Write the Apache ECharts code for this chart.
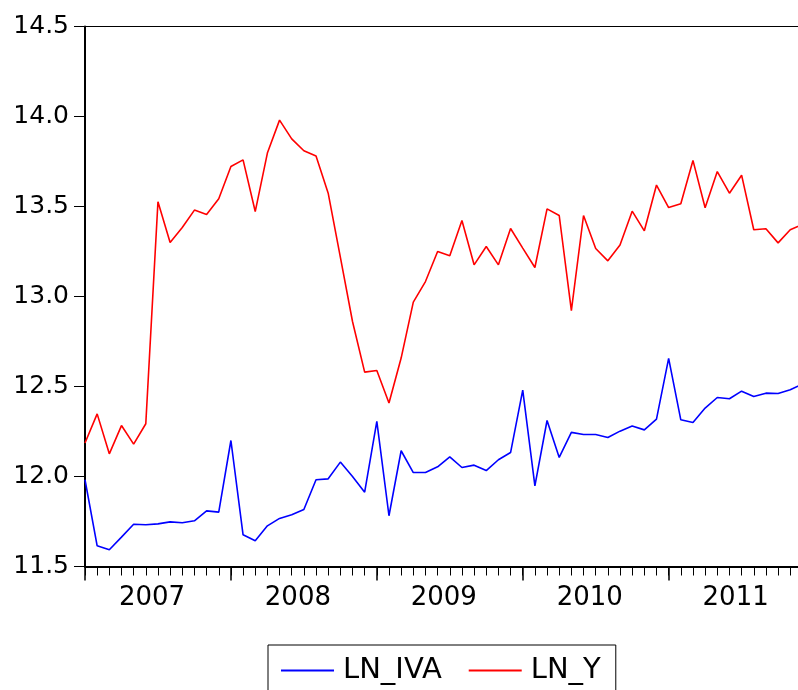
<!DOCTYPE html>
<html>
<head>
<meta charset="utf-8">
<script src="https://cdn.jsdelivr.net/npm/echarts@6/dist/echarts.min.js"></script>
<style>
html,body{margin:0;padding:0;background:#fff;}
#chart{width:798px;height:690px;}
</style>
</head>
<body>
<div id="chart"></div>
<script>
// Tick labels / categories
var years = ['2007', '2008', '2009', '2010', '2011'];
var monthsPerYear = 12;
var yTicks = [11.5, 12.0, 12.5, 13.0, 13.5, 14.0, 14.5];
var seriesNames = ['LN_IVA', 'LN_Y'];

// Monthly observations 2007M01 .. 2011M12
var lnIVA = [
  11.982, 11.615, 11.593, 11.663, 11.735, 11.732, 11.737, 11.748, 11.743, 11.754, 11.809, 11.802,
  12.200, 11.676, 11.643, 11.726, 11.767, 11.787, 11.817, 11.982, 11.987, 12.080, 12.000, 11.913,
  12.306, 11.782, 12.143, 12.022, 12.022, 12.054, 12.109, 12.050, 12.063, 12.033, 12.093, 12.133,
  12.480, 11.948, 12.311, 12.106, 12.245, 12.233, 12.233, 12.217, 12.252, 12.280, 12.259, 12.319,
  12.656, 12.315, 12.300, 12.380, 12.439, 12.432, 12.474, 12.444, 12.463, 12.461, 12.482, 12.513
];
var lnY = [
  12.186, 12.348, 12.126, 12.283, 12.180, 12.293, 13.526, 13.300, 13.383, 13.480, 13.456, 13.543,
  13.722, 13.759, 13.472, 13.797, 13.980, 13.876, 13.810, 13.780, 13.574, 13.219, 12.861, 12.580,
  12.589, 12.408, 12.658, 12.969, 13.083, 13.250, 13.226, 13.422, 13.176, 13.278, 13.176, 13.378,
  13.269, 13.161, 13.487, 13.450, 12.922, 13.450, 13.267, 13.198, 13.286, 13.474, 13.365, 13.619,
  13.494, 13.515, 13.756, 13.493, 13.694, 13.574, 13.674, 13.371, 13.376, 13.298, 13.371, 13.400
];

// observation index (months since 2007M01) paired with each value
var nObs = years.length * monthsPerYear;
function withIndex(arr) { return arr.map(function (v, i) { return [i, v]; }); }

var FONT = 'DejaVu Sans';
var PLOT = {left: 85, top: 26.5, width: 717.4, height: 540};
var chart = echarts.init(document.getElementById('chart'), null, {renderer: 'canvas'});
chart.setOption({
  animation: false,
  backgroundColor: '#ffffff',
  grid: [
    // main plot
    {
      left: PLOT.left, top: PLOT.top, width: PLOT.width, height: PLOT.height,
      containLabel: false, outerBoundsMode: 'none',
      show: true, borderColor: '#000', borderWidth: 1, backgroundColor: 'transparent'
    },
    // strip under the x axis: monthly ticks
    {
      left: PLOT.left, top: PLOT.top + PLOT.height + 1, width: PLOT.width, height: 8,
      containLabel: false, outerBoundsMode: 'none', show: false
    },
    // strip left of the y axis: value ticks
    {
      left: PLOT.left - 11, top: PLOT.top, width: 10, height: PLOT.height,
      containLabel: false, outerBoundsMode: 'none', show: false
    }
  ],
  legend: {
    left: 268, top: 645,
    orient: 'horizontal',
    data: [
      {name: seriesNames[0], icon: 'rect'},
      {name: seriesNames[1], icon: 'rect'}
    ],
    itemWidth: 53, itemHeight: 2, itemGap: 27,
    borderColor: '#000', borderWidth: 1,
    padding: [11, 15, 25, 13],
    textStyle: {fontFamily: FONT, fontSize: 29, color: '#000', padding: [0, 0, 0, 4]}
  },
  xAxis: [
    {
      gridIndex: 0,
      type: 'value', min: 0, max: nObs - 1, interval: monthsPerYear, position: 'bottom',
      axisLine: {show: true, onZero: false, lineStyle: {color: '#000', width: 2}},
      axisTick: {show: true, inside: false, length: 14, lineStyle: {color: '#000', width: 1.5}},
      axisLabel: {
        show: true, margin: 19, showMinLabel: true, showMaxLabel: true, hideOverlap: false,
        formatter: function (v) {
          if (v % monthsPerYear !== 0) return '';
          var y = years[v / monthsPerYear];
          return y ? '{a|' + y + '}' : '';
        },
        rich: {a: {fontFamily: FONT, fontSize: 26, color: '#000', padding: [0, 0, 0, 134]}}
      },
      splitLine: {show: false}
    },
    {
      gridIndex: 1,
      type: 'value', min: 0, max: nObs - 1, interval: 1, position: 'bottom',
      axisLine: {show: false}, axisTick: {show: false}, axisLabel: {show: false},
      splitLine: {show: true, lineStyle: {color: '#000', width: 1, type: 'solid'}}
    },
    {
      gridIndex: 2,
      type: 'value', min: 0, max: 1, show: false
    }
  ],
  yAxis: [
    {
      gridIndex: 0,
      type: 'value', min: yTicks[0], max: yTicks[yTicks.length - 1], interval: 0.5,
      axisLine: {show: true, onZero: false, lineStyle: {color: '#000', width: 2}},
      axisTick: {show: false},
      axisLabel: {
        margin: 16, fontFamily: FONT, fontSize: 25, color: '#000', hideOverlap: false,
        formatter: function (v) { return v.toFixed(1); }
      },
      splitLine: {show: false}
    },
    {
      gridIndex: 1,
      type: 'value', min: 0, max: 1, show: false
    },
    {
      gridIndex: 2,
      type: 'value', min: yTicks[0], max: yTicks[yTicks.length - 1], interval: 0.5,
      axisLine: {show: false}, axisTick: {show: false}, axisLabel: {show: false},
      splitLine: {show: true, lineStyle: {color: '#000', width: 1, type: 'solid'}}
    }
  ],
  series: [
    {
      name: seriesNames[0], type: 'line', xAxisIndex: 0, yAxisIndex: 0, data: withIndex(lnIVA),
      showSymbol: false, symbol: 'none',
      lineStyle: {color: '#0000FF', width: 1.6}, itemStyle: {color: '#0000FF'}
    },
    {
      name: seriesNames[1], type: 'line', xAxisIndex: 0, yAxisIndex: 0, data: withIndex(lnY),
      showSymbol: false, symbol: 'none',
      lineStyle: {color: '#FF0000', width: 1.6}, itemStyle: {color: '#FF0000'}
    }
  ]
});
</script>
</body>
</html>
